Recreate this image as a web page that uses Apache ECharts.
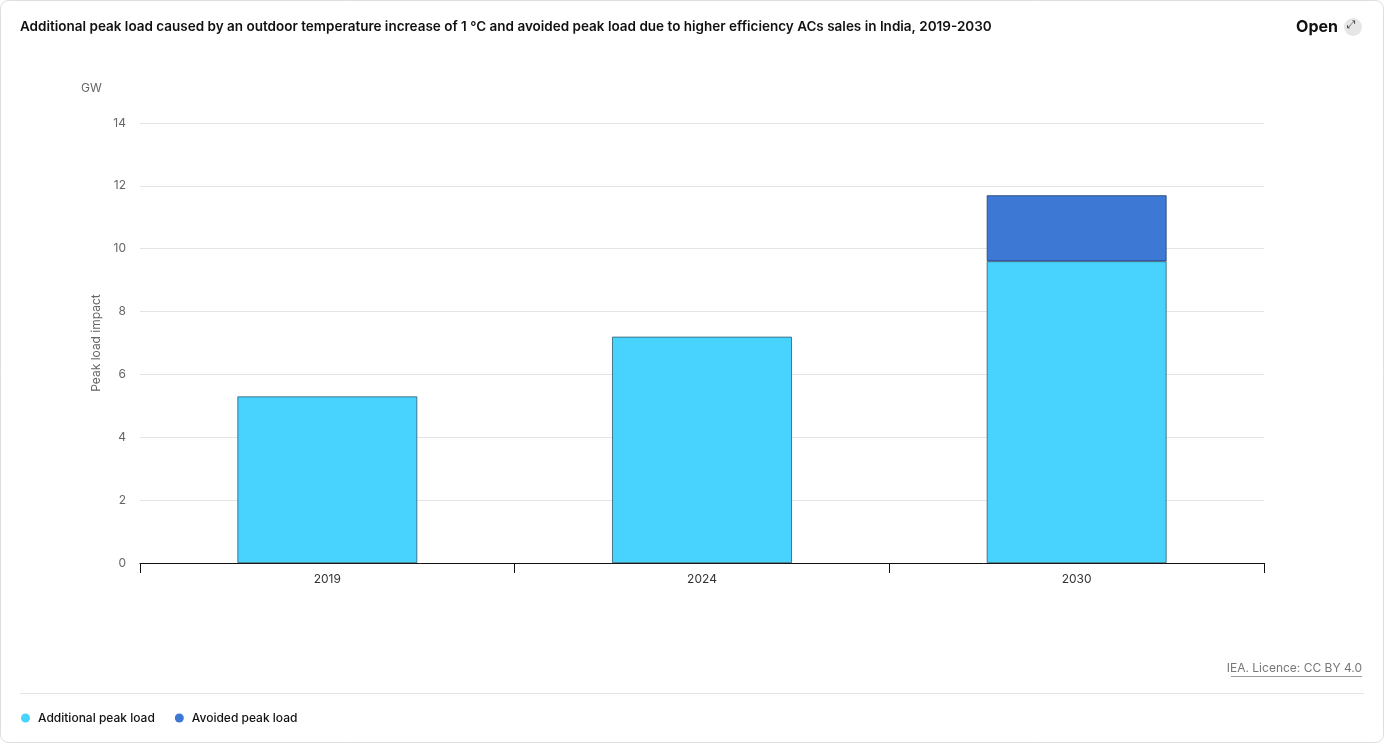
<!DOCTYPE html>
<html>
<head>
<meta charset="utf-8">
<script src="https://cdn.jsdelivr.net/npm/echarts@6/dist/echarts.min.js"></script>
<style>
  html, body { margin: 0; padding: 0; background: #fff; }
  #chart { width: 1384px; height: 743px; }
</style>
</head>
<body>
<div id="chart"></div>
<script>
const years = ['2019', '2024', '2030'];
const additional = [5.3, 7.2, 9.6];
const avoided = [null, null, 2.1];
const yTicks = [0, 2, 4, 6, 8, 10, 12, 14];

const chart = echarts.init(document.getElementById('chart'));
const font = 'Inter, "Noto Sans", sans-serif';

const option = {
  textStyle: { fontFamily: font },
  title: {
    text: 'Additional peak load caused by an outdoor temperature increase of 1 °C and avoided peak load due to higher efficiency ACs sales in India, 2019-2030',
    left: 20,
    top: 20,
    padding: 0,
    textStyle: { fontSize: 13.5, fontWeight: 600, color: '#111', fontFamily: font }
  },
  legend: {
    left: 21,
    top: 712,
    padding: 0,
    icon: 'circle',
    itemWidth: 9,
    itemHeight: 9,
    itemGap: 20,
    itemStyle: { borderWidth: 0 },
    textStyle: { fontSize: 12, color: '#111', fontWeight: 500, fontFamily: font, padding: [0, 0, 0, 3] },
    data: ['Additional peak load', 'Avoided peak load']
  },
  grid: { left: 140, right: 120, top: 123, bottom: 180 },
  xAxis: {
    type: 'category',
    data: years,
    axisLine: { lineStyle: { color: '#111', width: 1 } },
    axisTick: { show: true, length: 10, lineStyle: { color: '#111' } },
    axisLabel: { color: '#333', fontSize: 12, margin: 10 }
  },
  yAxis: {
    type: 'value',
    min: yTicks[0],
    max: yTicks[yTicks.length - 1],
    interval: 2,
    name: 'Peak load impact',
    nameLocation: 'middle',
    nameGap: 27,
    nameTextStyle: { color: '#666', fontSize: 12 },
    axisLine: { show: false },
    axisTick: { show: false },
    axisLabel: { color: '#666', fontSize: 12, margin: 14 },
    splitLine: { lineStyle: { color: '#e4e4e4' } }
  },
  series: [
    {
      name: 'Additional peak load',
      type: 'bar',
      stack: 'total',
      barWidth: '48%',
      data: additional,
      itemStyle: { color: '#48D3FF', borderColor: '#2f5a70', borderWidth: 0.8 }
    },
    {
      name: 'Avoided peak load',
      type: 'bar',
      stack: 'total',
      barWidth: '48%',
      data: avoided,
      itemStyle: { color: '#3D78D4', borderColor: '#234070', borderWidth: 0.8 }
    }
  ],
  graphic: [
    {
      type: 'rect',
      shape: { x: 0.5, y: 0.5, width: 1383, height: 742, r: 8 },
      style: { fill: 'none', stroke: '#dedede', lineWidth: 1 },
      silent: true
    },
    {
      type: 'line',
      shape: { x1: 20, y1: 693.5, x2: 1364, y2: 693.5 },
      style: { stroke: '#e4e4e4', lineWidth: 1 },
      silent: true
    },
    {
      type: 'text',
      left: 81,
      top: 82,
      style: { text: 'GW', fill: '#666', fontSize: 12, fontFamily: font }
    },
    {
      type: 'text',
      right: 46,
      top: 19,
      style: { text: 'Open', fill: '#111', fontSize: 16, fontWeight: 700, fontFamily: font }
    },
    {
      type: 'circle',
      shape: { cx: 1353, cy: 27, r: 9 },
      style: { fill: '#e6e6e6' },
      silent: true
    },
    {
      type: 'text',
      left: 1347,
      top: 20,
      style: { text: '⤢', fill: '#444', fontSize: 11, fontFamily: '"DejaVu Sans"' }
    },
    {
      type: 'text',
      right: 22,
      top: 662,
      style: { text: 'IEA. Licence: CC BY 4.0', fill: '#777', fontSize: 12, fontFamily: font }
    },
    {
      type: 'line',
      shape: { x1: 1231, y1: 676.5, x2: 1362, y2: 676.5 },
      style: { stroke: '#999', lineWidth: 1 },
      silent: true
    }
  ]
};

chart.setOption(option);
window.addEventListener('resize', function () { chart.resize(); });
</script>
</body>
</html>
